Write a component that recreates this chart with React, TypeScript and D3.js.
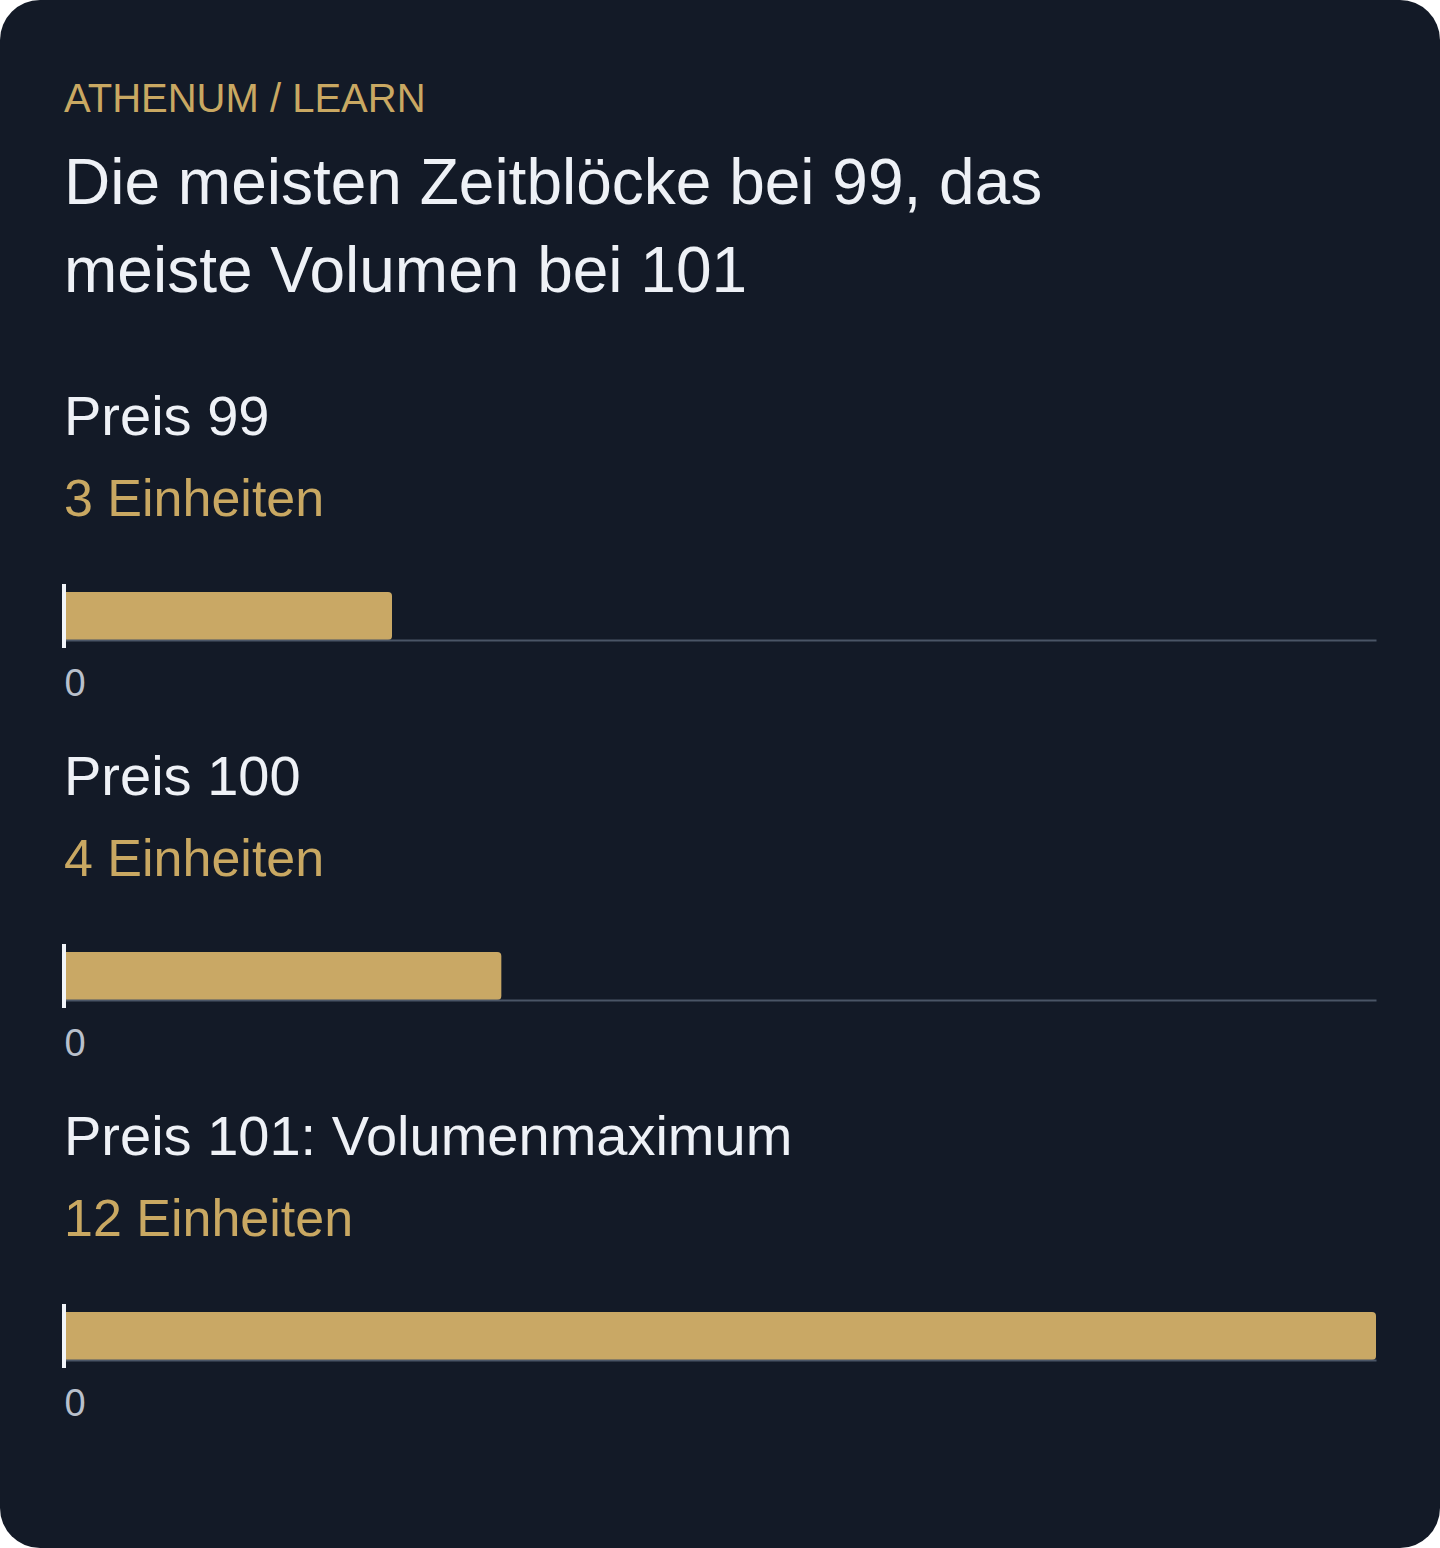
import React, { useEffect, useRef } from 'react';
import * as d3 from 'd3';

const priceLabels = ['Preis 99', 'Preis 100', 'Preis 101: Volumenmaximum'];
const unitValues = [3, 4, 12];
const unitLabels = ['3 Einheiten', '4 Einheiten', '12 Einheiten'];
const tickValues = [0];
const titleLines = ['Die meisten Zeitblöcke bei 99, das', 'meiste Volumen bei 101'];
const kicker = 'ATHENUM / LEARN';

const WIDTH = 1440;
const HEIGHT = 1548;
const FONT = '"Liberation Sans", Arial, Helvetica, sans-serif';
const GOLD = '#c9a862';

export default function App() {
  const svgRef = useRef<SVGSVGElement>(null);

  useEffect(() => {
    if (!svgRef.current) return;
    const svg = d3.select(svgRef.current);
    svg.selectAll('*').remove();

    svg.append('rect')
      .attr('width', WIDTH)
      .attr('height', HEIGHT)
      .attr('rx', 40)
      .attr('fill', '#131a27');

    svg.append('text')
      .attr('x', 64)
      .attr('y', 112)
      .attr('fill', GOLD)
      .style('font-family', FONT)
      .style('font-size', '40px')
      .text(kicker);

    titleLines.forEach((line, i) => {
      svg.append('text')
        .attr('x', 64)
        .attr('y', 204 + i * 88)
        .attr('fill', '#eef1f6')
        .style('font-family', FONT)
        .style('font-size', '64px')
        .text(line);
    });

    const x = d3.scaleLinear()
      .domain([0, d3.max(unitValues) as number])
      .range([64, 1376]);

    const barH = 48;

    priceLabels.forEach((label, i) => {
      const top = 360 * i;
      const axisY = 640 + top;
      const g = svg.append('g');

      g.append('text')
        .attr('x', 64)
        .attr('y', 435 + top)
        .attr('fill', '#eef1f6')
        .style('font-family', FONT)
        .style('font-size', '56px')
        .text(label);

      g.append('text')
        .attr('x', 64)
        .attr('y', 516 + top)
        .attr('fill', GOLD)
        .style('font-family', FONT)
        .style('font-size', '52px')
        .text(unitLabels[i]);

      // bar, rounded on the right only
      const x0 = x(0);
      const x1 = x(unitValues[i]);
      const r = 4;
      const y0 = axisY - barH;
      const path = d3.path();
      path.moveTo(x0, y0);
      path.lineTo(x1 - r, y0);
      path.arcTo(x1, y0, x1, y0 + r, r);
      path.lineTo(x1, axisY - r);
      path.arcTo(x1, axisY, x1 - r, axisY, r);
      path.lineTo(x0, axisY);
      path.closePath();
      g.append('path')
        .attr('d', path.toString())
        .attr('fill', '#c9a865');

      const axis = d3.axisBottom(x)
        .tickValues(tickValues)
        .tickSize(0)
        .tickPadding(0);

      const ax = g.append('g')
        .attr('transform', `translate(0,${axisY})`)
        .call(axis);
      ax.select('.domain')
        .attr('stroke', '#4a5566')
        .attr('stroke-width', 2);
      ax.selectAll('.tick text')
        .attr('fill', '#b9c0cc')
        .attr('dy', null)
        .attr('y', 56)
        .attr('text-anchor', 'start')
        .attr('x', 0)
        .style('font-family', FONT)
        .style('font-size', '38px');

      // category axis stub
      g.append('line')
        .attr('x1', 64)
        .attr('x2', 64)
        .attr('y1', axisY - 56)
        .attr('y2', axisY + 8)
        .attr('stroke', '#f1f4f8')
        .attr('stroke-width', 4);
    });
  }, []);

  return (
    <svg
      ref={svgRef}
      width={WIDTH}
      height={HEIGHT}
      style={{ position: 'absolute', left: 0, top: 0, display: 'block' }}
      role="img"
      aria-label="Volumen je Preis"
    />
  );
}
